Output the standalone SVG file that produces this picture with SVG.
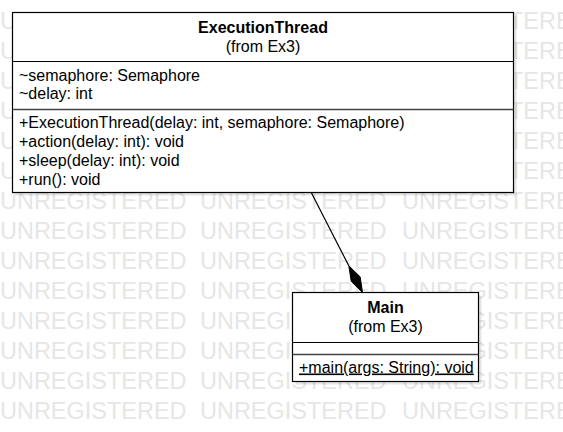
<svg xmlns="http://www.w3.org/2000/svg" width="563" height="432" viewBox="0 0 563 432">
<style>
.wm{font-family:"Liberation Sans",Arial,sans-serif;font-size:23px;fill:#e6e6e6}
.t{font-family:"Liberation Sans",Arial,sans-serif;font-size:16px;fill:#000}
.b{font-weight:bold}
.c{text-anchor:middle}
.box{fill:#fff;stroke:#000;stroke-width:1.2}
.sh{fill:#000;opacity:0.1}
.div1{stroke:#000;stroke-width:1}
.div2{stroke:#444;stroke-width:1.6}
</style>
<defs>
<g id="wmrow">
<text class="wm" x="0" y="0" textLength="186.5" lengthAdjust="spacingAndGlyphs">UNREGISTERED</text>
<text class="wm" x="200" y="0" textLength="186.5" lengthAdjust="spacingAndGlyphs">UNREGISTERED</text>
<text class="wm" x="402" y="0" textLength="186.5" lengthAdjust="spacingAndGlyphs">UNREGISTERED</text>
</g>
</defs>
<rect width="563" height="432" fill="#fff"/>
<g id="watermark">
<use href="#wmrow" y="29"/>
<use href="#wmrow" y="59"/>
<use href="#wmrow" y="89"/>
<use href="#wmrow" y="119"/>
<use href="#wmrow" y="149"/>
<use href="#wmrow" y="179"/>
<use href="#wmrow" y="209"/>
<use href="#wmrow" y="239"/>
<use href="#wmrow" y="269"/>
<use href="#wmrow" y="299"/>
<use href="#wmrow" y="329"/>
<use href="#wmrow" y="359"/>
<use href="#wmrow" y="389"/>
<use href="#wmrow" y="419"/>
</g>
<g id="ExecutionThread">
<rect class="sh" x="15.5" y="15.5" width="501" height="180"/>
<rect class="box" x="12.5" y="12.5" width="501" height="180"/>
<line class="div1" x1="12.5" y1="61.5" x2="513.5" y2="61.5"/>
<line class="div2" x1="12.5" y1="109.5" x2="513.5" y2="109.5"/>
<text class="t b c" x="263" y="32.5">ExecutionThread</text>
<text class="t c" x="263" y="51.5">(from Ex3)</text>
<text class="t" x="19" y="81">~semaphore: Semaphore</text>
<text class="t" x="19" y="99">~delay: int</text>
<text class="t" x="19" y="128">+ExecutionThread(delay: int, semaphore: Semaphore)</text>
<text class="t" x="19" y="147">+action(delay: int): void</text>
<text class="t" x="19" y="166">+sleep(delay: int): void</text>
<text class="t" x="19" y="185">+run(): void</text>
</g>
<g id="Main">
<rect class="sh" x="295.5" y="295.5" width="186" height="89"/>
<rect class="box" x="292.5" y="292.5" width="186" height="89"/>
<line class="div1" x1="292.5" y1="342.5" x2="478.5" y2="342.5"/>
<line class="div2" x1="292.5" y1="354.5" x2="478.5" y2="354.5"/>
<text class="t b c" x="385.5" y="313">Main</text>
<text class="t c" x="385.5" y="332">(from Ex3)</text>
<text class="t" x="299" y="372.5" text-decoration="underline">+main(args: String): void</text>
</g>
<g id="connectors">
<line x1="311.5" y1="193" x2="348.8" y2="265.8" stroke="#000" stroke-width="1.2"/>
<polygon points="362.5,292.5 360.15,276.87 348.8,265.8 351.25,281.43" fill="#000" stroke="#000" stroke-width="1"/>
</g>
</svg>
